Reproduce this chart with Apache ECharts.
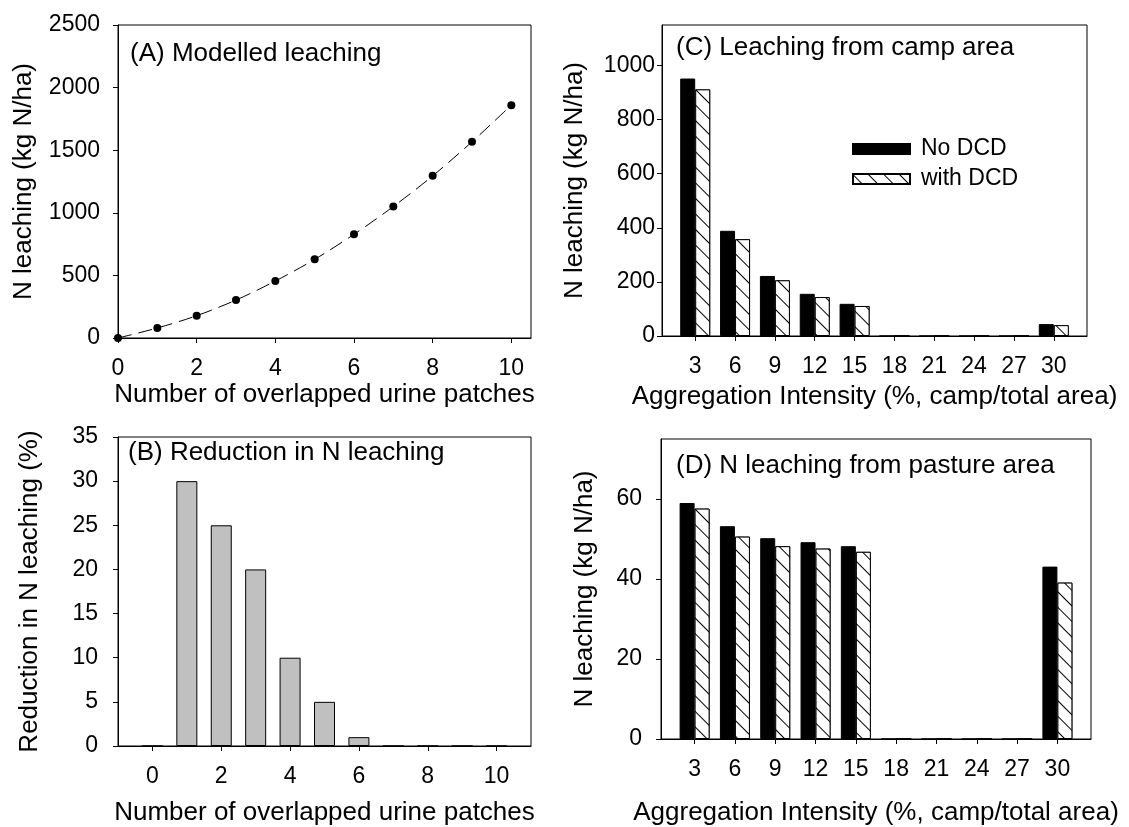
<!DOCTYPE html>
<html>
<head>
<meta charset="utf-8">
<script src="https://cdn.jsdelivr.net/npm/echarts@6/dist/echarts.min.js"></script>
<style>
html,body{margin:0;padding:0;background:#fff;}
#chart{width:1129px;height:827px;}
</style>
</head>
<body>
<div id="chart"></div>
<script>
// ---- Data ----
const patches = [0, 1, 2, 3, 4, 5, 6, 7, 8, 9, 10];
const modelledLeaching = [0, 80, 178, 303, 455, 628, 828, 1050, 1295, 1567, 1860];
const reductionPct = [0, 30, 25, 20, 10, 5, 1, 0, 0, 0, 0];
const patchTicks = [0, 2, 4, 6, 8, 10];

const aggregation = [3, 6, 9, 12, 15, 18, 21, 24, 27, 30];
const campNoDCD = [952, 389, 222, 156, 119, 0, 0, 0, 0, 44];
const campWithDCD = [912, 358, 206, 144, 111, 0, 0, 0, 0, 40];
const pastureNoDCD = [59, 53.2, 50.2, 49.2, 48.2, 0, 0, 0, 0, 43.1];
const pastureWithDCD = [57.6, 50.6, 48.2, 47.6, 46.8, 0, 0, 0, 0, 39.1];

const campTicks = [0, 200, 400, 600, 800, 1000];
const pastureTicks = [0, 20, 40, 60];

const FONT = "'Liberation Sans', Arial, Helvetica, sans-serif";
const TICK_FS = 23, NAME_FS = 26, PANEL_FS = 26;

function pairs(xs, ys) { return xs.map((x, i) => [x, ys[i]]); }
const plain = v => String(v);

const hatch = {
  symbol: 'rect', symbolSize: 1,
  dashArrayX: [[1, 0]], dashArrayY: [1, 10],
  rotation: Math.PI / 4,
  color: '#000', backgroundColor: '#fff'
};

const lineBlack = { color: '#000', width: 1 };
function tick(custom) {
  const t = { show: true, inside: false, length: 5, lineStyle: { color: '#000' } };
  if (custom) t.customValues = custom;
  return t;
}
function label(margin, custom) {
  const l = { color: '#000', fontSize: TICK_FS, fontFamily: FONT, lineHeight: 23, margin, formatter: plain };
  if (custom) l.customValues = custom;
  return l;
}
function axis(gridIndex, extra) {
  return Object.assign({
    gridIndex, type: 'value',
    axisLine: { show: true, onZero: false, lineStyle: lineBlack },
    splitLine: { show: false },
    nameLocation: 'middle',
    nameTextStyle: { color: '#000', fontSize: NAME_FS, fontFamily: FONT, lineHeight: 26 }
  }, extra);
}

const chart = echarts.init(document.getElementById('chart'), null, { renderer: 'canvas' });

const option = {
  backgroundColor: '#fff',
  animation: false,
  title: [
    { text: '(A) Modelled leaching', left: 130, top: 41 },
    { text: '(B) Reduction in N leaching', left: 128, top: 440 },
    { text: '(C) Leaching from camp area', left: 676, top: 35 },
    { text: '(D) N leaching from pasture area', left: 676, top: 453 }
  ].map(t => Object.assign(t, { padding: 0, textStyle: { color: '#000', fontSize: PANEL_FS, lineHeight: 26, fontWeight: 'normal', fontFamily: FONT } })),
  legend: {
    data: ['No DCD', 'with DCD'],
    orient: 'vertical', left: 847, top: 132.5,
    icon: 'rect',
    itemWidth: 57, itemHeight: 10, itemGap: 7,
    textStyle: { color: '#000', fontSize: TICK_FS, fontFamily: FONT, lineHeight: 23, padding: [0, 0, 0, 6] },
    selectedMode: false
  },
  grid: [
    { left: 118, top: 25, width: 413, height: 313 },
    { left: 118, top: 437, width: 413, height: 311 },
    { left: 662, top: 25, width: 425, height: 311 },
    { left: 661, top: 439, width: 430, height: 302 }
  ].map(g => Object.assign(g, { show: true, borderColor: '#000', borderWidth: 1, backgroundColor: 'transparent' })),
  xAxis: [
    axis(0, { min: 0, max: 10.5, name: 'Number of overlapped urine patches', nameGap: 44,
      axisTick: tick(patchTicks), axisLabel: label(19.5, patchTicks) }),
    axis(1, { min: -1, max: 11, name: 'Number of overlapped urine patches', nameGap: 54,
      axisTick: tick(patchTicks), axisLabel: label(19, patchTicks) }),
    axis(2, { min: 0.5, max: 32.5, name: 'Aggregation Intensity (%, camp/total area)', nameGap: 48,
      axisTick: tick(aggregation), axisLabel: label(19, aggregation) }),
    axis(3, { min: 0.5, max: 32.5, name: 'Aggregation Intensity (%, camp/total area)', nameGap: 61,
      axisTick: tick(aggregation), axisLabel: label(19, aggregation) })
  ],
  yAxis: [
    axis(0, { min: 0, max: 2500, interval: 500, name: 'N leaching (kg N/ha)', nameGap: 81,
      axisTick: tick(), axisLabel: label(18) }),
    axis(1, { min: 0, max: 35, interval: 5, name: 'Reduction in N leaching (%)', nameGap: 75,
      axisTick: tick(), axisLabel: label(20) }),
    axis(2, { min: 0, max: 1150, name: 'N leaching (kg N/ha)', nameGap: 74,
      axisTick: tick(campTicks), axisLabel: label(7, campTicks) }),
    axis(3, { min: 0, max: 75, name: 'N leaching (kg N/ha)', nameGap: 63,
      axisTick: tick(pastureTicks), axisLabel: label(19, pastureTicks) })
  ],
  series: [
    {
      type: 'line', xAxisIndex: 0, yAxisIndex: 0,
      data: pairs(patches, modelledLeaching),
      smooth: 0.3, showSymbol: true, symbol: 'circle', symbolSize: 8,
      itemStyle: { color: '#000' },
      lineStyle: { color: '#000', width: 1, type: [14, 7] }
    },
    {
      type: 'bar', xAxisIndex: 1, yAxisIndex: 1,
      data: pairs(patches, reductionPct), barWidth: 21,
      itemStyle: { color: '#c0c0c0', borderColor: '#000', borderWidth: 1 }
    },
    {
      name: 'No DCD', type: 'bar', xAxisIndex: 2, yAxisIndex: 2,
      data: pairs(aggregation, campNoDCD), barWidth: 15, barGap: '0%',
      itemStyle: { color: '#000', borderColor: '#000', borderWidth: 1 }
    },
    {
      name: 'with DCD', type: 'bar', xAxisIndex: 2, yAxisIndex: 2,
      data: pairs(aggregation, campWithDCD), barWidth: 15, barGap: '0%',
      itemStyle: { color: '#fff', borderColor: '#000', borderWidth: 1, decal: hatch }
    },
    {
      name: 'No DCD', type: 'bar', xAxisIndex: 3, yAxisIndex: 3,
      data: pairs(aggregation, pastureNoDCD), barWidth: 15, barGap: '0%',
      itemStyle: { color: '#000', borderColor: '#000', borderWidth: 1 }
    },
    {
      name: 'with DCD', type: 'bar', xAxisIndex: 3, yAxisIndex: 3,
      data: pairs(aggregation, pastureWithDCD), barWidth: 15, barGap: '0%',
      itemStyle: { color: '#fff', borderColor: '#000', borderWidth: 1, decal: hatch }
    }
  ]
};
chart.setOption(option);
</script>
</body>
</html>
